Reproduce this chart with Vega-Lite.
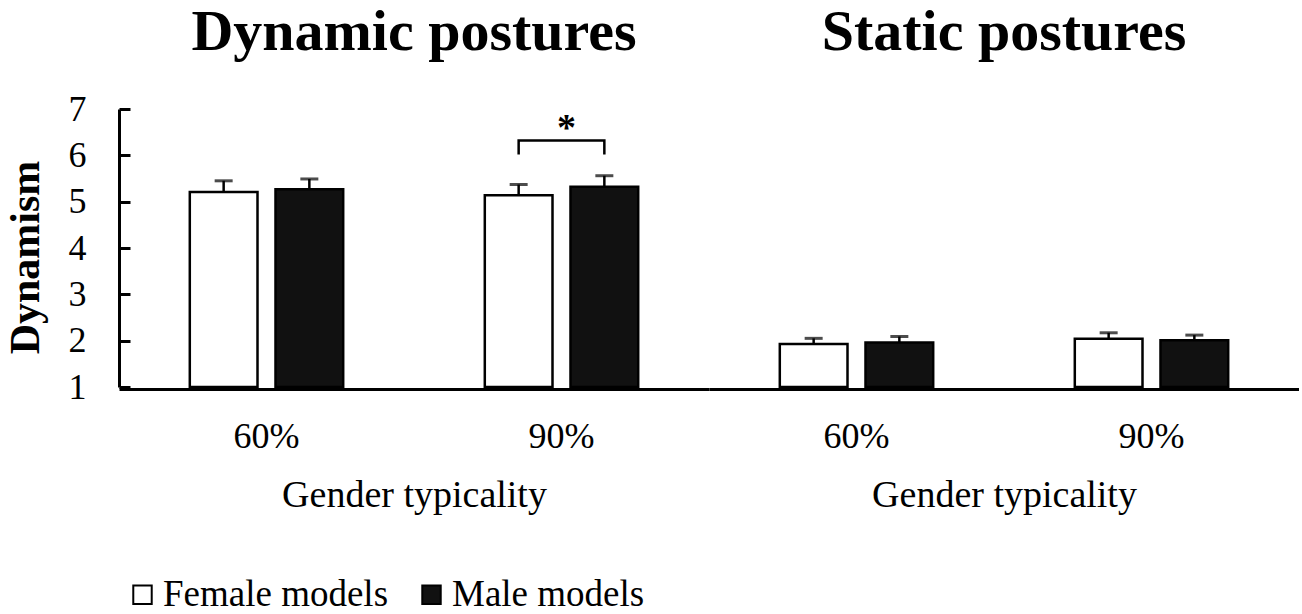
{
  "$schema": "https://vega.github.io/schema/vega-lite/v6.json",
  "padding": {"left": 4, "top": 4, "right": 0, "bottom": 0},
  "config": {
    "font": "Liberation Serif",
    "view": {"stroke": null},
    "facet": {"spacing": 0},
    "concat": {"spacing": 0}
  },
  "data": {
    "values": [
      {"kind": "bar", "posture": "Dynamic postures", "typicality": "60%", "gender": "Female models", "mean": 5.21, "hi": 5.45},
      {"kind": "bar", "posture": "Dynamic postures", "typicality": "60%", "gender": "Male models", "mean": 5.27, "hi": 5.49},
      {"kind": "bar", "posture": "Dynamic postures", "typicality": "90%", "gender": "Female models", "mean": 5.14, "hi": 5.37},
      {"kind": "bar", "posture": "Dynamic postures", "typicality": "90%", "gender": "Male models", "mean": 5.32, "hi": 5.56},
      {"kind": "bar", "posture": "Static postures", "typicality": "60%", "gender": "Female models", "mean": 1.93, "hi": 2.05},
      {"kind": "bar", "posture": "Static postures", "typicality": "60%", "gender": "Male models", "mean": 1.96, "hi": 2.09},
      {"kind": "bar", "posture": "Static postures", "typicality": "90%", "gender": "Female models", "mean": 2.04, "hi": 2.17},
      {"kind": "bar", "posture": "Static postures", "typicality": "90%", "gender": "Male models", "mean": 2.01, "hi": 2.12},
      {"kind": "bracket", "posture": "Dynamic postures", "typicality": "90%", "gender": "Female models", "mean": 6.02, "ord": 1},
      {"kind": "bracket", "posture": "Dynamic postures", "typicality": "90%", "gender": "Female models", "mean": 6.32, "ord": 2},
      {"kind": "bracket", "posture": "Dynamic postures", "typicality": "90%", "gender": "Male models", "mean": 6.32, "ord": 3},
      {"kind": "bracket", "posture": "Dynamic postures", "typicality": "90%", "gender": "Male models", "mean": 6.02, "ord": 4},
      {"kind": "star", "posture": "Dynamic postures", "typicality": "90%", "mean": 6.56, "label": "*"}
    ]
  },
  "facet": {
    "column": {
      "field": "posture",
      "type": "nominal",
      "sort": ["Dynamic postures", "Static postures"],
      "header": {
        "title": null,
        "labelFontSize": 58,
        "labelFontWeight": "bold",
        "labelFont": "Liberation Serif",
        "labelColor": "black",
        "labelPadding": 47
      }
    }
  },
  "spec": {
    "width": 590,
    "height": 278,
    "encoding": {
      "x": {
        "field": "typicality",
        "type": "nominal",
        "sort": ["60%", "90%"],
        "scale": {"paddingInner": 0.48, "paddingOuter": 0.24},
        "axis": {
          "title": "Gender typicality",
          "titleFontSize": 38,
          "titleFontWeight": "normal",
          "titleColor": "black",
          "titlePadding": 22,
          "labelFontSize": 36,
          "labelColor": "black",
          "labelAngle": 0,
          "labelPadding": 30,
          "ticks": false,
          "domainColor": "black",
          "domainWidth": 3
        }
      }
    },
    "layer": [
      {
        "transform": [{"filter": "datum.kind === 'bar'"}],
        "mark": {"type": "rule", "color": "black", "strokeWidth": 2.5},
        "encoding": {
          "xOffset": {"field": "gender", "type": "nominal", "scale": {"paddingInner": 0.21, "paddingOuter": 0}},
          "y": {"field": "mean", "type": "quantitative"},
          "y2": {"field": "hi"}
        }
      },
      {
        "transform": [{"filter": "datum.kind === 'bar'"}],
        "mark": {"type": "tick", "color": "black", "thickness": 3, "size": 18},
        "encoding": {
          "xOffset": {"field": "gender", "type": "nominal"},
          "y": {"field": "hi", "type": "quantitative"}
        }
      },
      {
        "transform": [{"filter": "datum.kind === 'bar'"}],
        "mark": {"type": "bar", "stroke": "black", "strokeWidth": 2.5},
        "encoding": {
          "xOffset": {"field": "gender", "type": "nominal"},
          "y": {
            "field": "mean",
            "type": "quantitative",
            "scale": {"domain": [1, 7], "nice": false, "zero": false},
            "axis": {
              "title": "Dynamism",
              "titleFontSize": 42,
              "titleFontWeight": "bold",
              "titleColor": "black",
              "titlePadding": 21,
              "titleY": 148,
              "values": [1, 2, 3, 4, 5, 6, 7],
              "labelFontSize": 36,
              "labelColor": "black",
              "labelPadding": 44,
              "tickSize": -11,
              "tickWidth": 3,
              "tickColor": "black",
              "domainColor": "black",
              "domainWidth": 3,
              "grid": false
            }
          },
          "y2": {"datum": 1},
          "color": {
            "field": "gender",
            "type": "nominal",
            "scale": {"domain": ["Female models", "Male models"], "range": ["white", "#111111"]},
            "legend": {
              "title": null,
              "orient": "none",
              "legendX": 5,
              "legendY": 467,
              "direction": "horizontal",
              "symbolType": "square",
              "symbolSize": 340,
              "symbolStrokeColor": "black",
              "symbolStrokeWidth": 2,
              "symbolOpacity": 1,
              "labelFontSize": 37,
              "labelColor": "black",
              "labelOffset": 2,
              "columnPadding": 24,
              "labelLimit": 400
            }
          }
        }
      },
      {
        "transform": [{"filter": "datum.kind === 'bracket'"}],
        "mark": {"type": "line", "color": "black", "strokeWidth": 2.5},
        "encoding": {
          "xOffset": {"field": "gender", "type": "nominal"},
          "y": {"field": "mean", "type": "quantitative"},
          "order": {"field": "ord", "type": "quantitative"}
        }
      },
      {
        "transform": [{"filter": "datum.kind === 'star'"}],
        "mark": {"type": "text", "color": "black", "fontSize": 38, "fontWeight": "bold", "baseline": "middle", "dx": 5},
        "encoding": {
          "y": {"field": "mean", "type": "quantitative"},
          "text": {"field": "label"}
        }
      }
    ]
  }
}
